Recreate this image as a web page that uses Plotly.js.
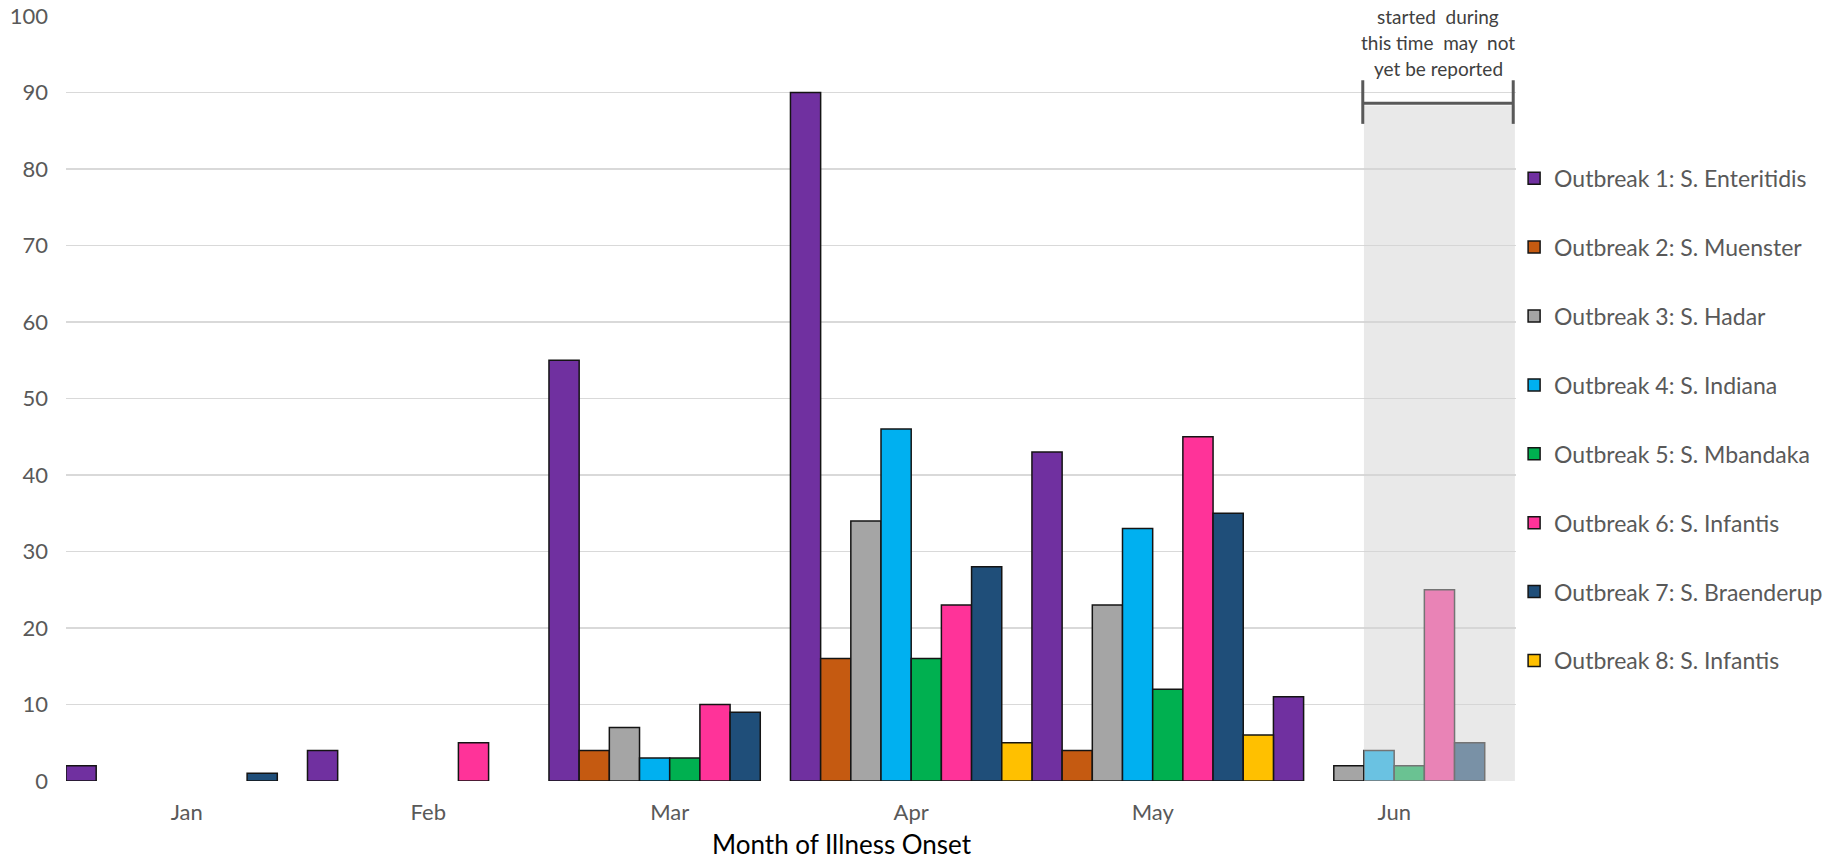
<!DOCTYPE html>
<html>
<head>
<meta charset="utf-8">
<script src="https://cdn.plot.ly/plotly-3.0.1.min.js"></script>
<style>
  html, body { margin: 0; padding: 0; background: #ffffff; }
  #chart { width: 1839px; height: 862px; }
</style>
</head>
<body>
<div id="chart"></div>
<script>
// ---- data ----
const months = ["Jan", "Feb", "Mar", "Apr", "May", "Jun"];

const seriesNames = [
  "Outbreak 1: S. Enteritidis",
  "Outbreak 2: S. Muenster",
  "Outbreak 3: S. Hadar",
  "Outbreak 4: S. Indiana",
  "Outbreak 5: S. Mbandaka",
  "Outbreak 6: S. Infantis",
  "Outbreak 7: S. Braenderup",
  "Outbreak 8: S. Infantis"
];

const outbreak1 = [2, 4, 55, 90, 43, 11];
const outbreak2 = [0, 0, 4, 16, 4, 0];
const outbreak3 = [0, 0, 7, 34, 23, 2];
const outbreak4 = [0, 0, 3, 46, 33, 4];
const outbreak5 = [0, 0, 3, 16, 12, 2];
const outbreak6 = [0, 5, 10, 23, 45, 25];
const outbreak7 = [1, 0, 9, 28, 35, 5];
const outbreak8 = [0, 0, 0, 5, 6, 0];

const seriesValues = [outbreak1, outbreak2, outbreak3, outbreak4,
                      outbreak5, outbreak6, outbreak7, outbreak8];

const seriesColors = ["#7030a0", "#c55a11", "#a5a5a5", "#00b0f0",
                      "#00b050", "#ff3399", "#1f4e79", "#ffc000"];

const yTickValues = [0, 10, 20, 30, 40, 50, 60, 70, 80, 90, 100];

const noteLines = ["started\u00a0\u00a0during", "this time\u00a0\u00a0may\u00a0\u00a0not", "yet be reported"];
const xTitle = "Month of Illness Onset";

// ---- build traces (zero counts are left undrawn, as in the reference) ----
const traces = seriesNames.map((name, i) => ({
  type: "bar",
  name: name,
  x: months,
  y: seriesValues[i].map(v => (v === 0 ? null : v)),
  legendgroup: "g" + i,
  marker: {
    color: seriesColors[i],
    line: { color: "#141414", width: 1.5 }
  },
  hoverinfo: "x+y+name"
}));

const FONT = "Lato, 'Open Sans', 'DejaVu Sans', sans-serif";

// shaded "reporting delay" window: from 4th bar of Jun to end of Jun
const shadeX0 = 4.875, shadeX1 = 5.5, shadeTop = 88.3, bracketY = 88.6;

const layout = {
  width: 1839,
  height: 862,
  margin: { l: 66, r: 322, t: 16, b: 81, pad: 0 },
  paper_bgcolor: "#ffffff",
  plot_bgcolor: "#ffffff",
  barmode: "group",
  bargap: 0,
  bargroupgap: 0,
  showlegend: true,
  font: { family: FONT, color: "#595959" },
  xaxis: {
    type: "category",
    showgrid: false,
    zeroline: false,
    showline: false,
    ticks: "",
    ticklabelstandoff: 16,
    tickfont: { family: FONT, size: 22, color: "#595959" }
  },
  yaxis: {
    range: [0, 100],
    tickvals: yTickValues,
    showgrid: true,
    gridcolor: "#d9d9d9",
    gridwidth: 1.5,
    zeroline: false,
    showline: false,
    ticks: "",
    ticklabelstandoff: 17,
    tickfont: { family: FONT, size: 22, color: "#595959" }
  },
  legend: {
    x: 0.998,
    xanchor: "left",
    y: 0.816,
    yanchor: "top",
    bgcolor: "rgba(0,0,0,0)",
    borderwidth: 0,
    tracegroupgap: 36,
    font: { family: FONT, size: 23, color: "#595959" }
  },
  shapes: [
    {
      type: "rect", xref: "x", yref: "y", layer: "above",
      x0: shadeX0, x1: shadeX1, y0: 0, y1: shadeTop,
      fillcolor: "#d4d4d4", opacity: 0.5, line: { width: 0 }
    },
    {
      type: "line", xref: "x", yref: "y", layer: "above",
      x0: shadeX0 - 0.005, x1: shadeX1 - 0.007, y0: bracketY, y1: bracketY,
      line: { color: "#595959", width: 3 }
    },
    {
      type: "line", xref: "x", yref: "y", layer: "above",
      x0: shadeX0 - 0.005, x1: shadeX0 - 0.005, y0: 85.9, y1: 91.6,
      line: { color: "#595959", width: 3 }
    },
    {
      type: "line", xref: "x", yref: "y", layer: "above",
      x0: shadeX1 - 0.007, x1: shadeX1 - 0.007, y0: 85.9, y1: 91.6,
      line: { color: "#595959", width: 3 }
    }
  ],
  annotations: [
    ...noteLines.map((t, i) => ({
      text: t,
      xref: "x", yref: "paper",
      x: (shadeX0 + shadeX1) / 2 - 0.006,
      y: 1 - (1 + 26 * i) / 765,
      xanchor: "center", yanchor: "middle",
      showarrow: false,
      bgcolor: i === 0 ? "#ffffff" : "rgba(0,0,0,0)",
      borderpad: 0,
      font: { family: FONT, size: 19, color: "#404040" }
    })),
    {
      text: xTitle,
      xref: "paper", yref: "paper",
      x: 0.535, y: -0.083,
      xanchor: "center", yanchor: "middle",
      showarrow: false,
      font: { family: FONT, size: 26, color: "#000000" }
    }
  ]
};

Plotly.newPlot("chart", traces, layout, { displayModeBar: false, staticPlot: true });
</script>
</body>
</html>
